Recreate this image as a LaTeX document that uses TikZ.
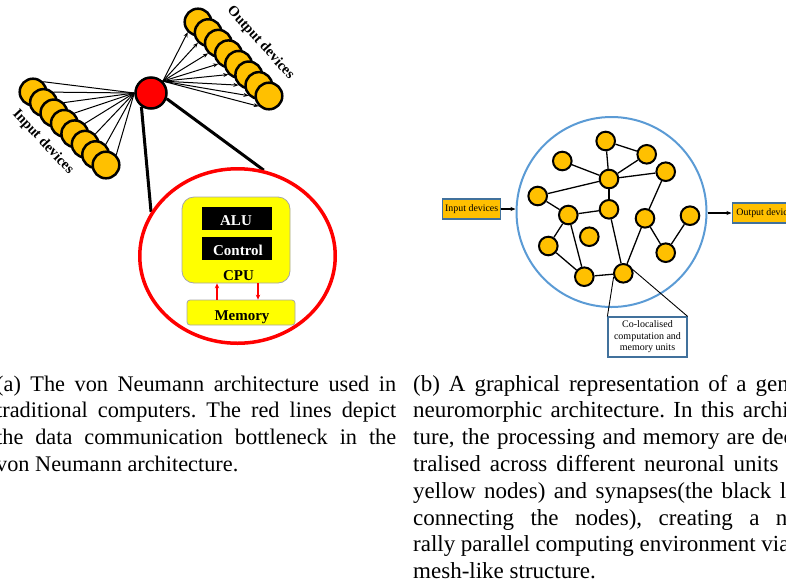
\documentclass[tikz,border=0pt]{standalone}
\usepackage{fontspec}
\setmainfont{Liberation Serif}
\usetikzlibrary{arrows.meta,shapes.geometric,backgrounds}
\definecolor{devyel}{HTML}{FFC000}
\definecolor{cpuyel}{HTML}{FFFF00}
\definecolor{cpugray}{HTML}{A6A6A6}
\definecolor{ringblue}{HTML}{5B9BD5}
\definecolor{boxblue}{HTML}{41719C}
\newlength\capwa
\setlength\capwa{400pt}
\newlength\capwb
\setlength\capwb{410pt}
\newcommand\caplinea[1]{\hbox to \capwa{#1}}
\newcommand\caplineb[1]{\hbox to \capwb{#1}}
\frenchspacing
\begin{document}
\begin{tikzpicture}[x=1pt,y=-1pt,
  dev/.style={circle,draw=black,line width=2.5pt,fill=devyel,minimum size=26.6pt,inner sep=0pt},
  hub/.style={circle,draw=black,line width=2.5pt,fill=red,minimum size=31pt,inner sep=0pt},
  fan/.style={line width=1pt,black},
  fanarrow/.style={line width=1pt,black,-{Stealth[length=5pt,width=4pt]}},
  bus/.style={line width=3pt,black},
  neuron/.style={circle,draw=black,line width=2pt,fill=devyel,minimum size=18.6pt,inner sep=0pt},
  syn/.style={line width=1.3pt,black},
  devlabel/.style={font=\bfseries\fontsize{14.5pt}{16pt}\selectfont,inner sep=0pt},
  cpulabel/.style={font=\bfseries\fontsize{15pt}{17pt}\selectfont,inner sep=0pt,anchor=base},
  blackbox/.style={fill=black,minimum width=70pt,minimum height=23pt,inner sep=0pt},
  iobox/.style={draw=boxblue,line width=1.2pt,fill=devyel,font=\fontsize{9.9pt}{11pt}\selectfont,inner xsep=2.5pt,inner ysep=0pt,minimum height=20pt},
  linkarrow/.style={line width=1.2pt,black,-{Stealth[length=5pt,width=4pt]}},
  redarrow/.style={line width=1.3pt,red,-{Stealth[length=5pt,width=4.5pt]}},
  captiona/.style={inner sep=0pt,anchor=base west,font=\fontsize{22.3pt}{26.8pt}\selectfont},
  captionb/.style={inner sep=0pt,anchor=base west,font=\fontsize{23pt}{26.8pt}\selectfont}
]
\useasboundingbox (0,0) rectangle (786,582);
\clip (0,0) rectangle (786,582);

% ---------- (a) von Neumann ----------
\node[ellipse,draw=red,line width=3.5pt,minimum width=195.5pt,minimum height=174.5pt,inner sep=0pt] (vnbox) at (237.5,256) {};
\node[hub] (hub) at (151,93) {};
\foreach \i in {0,...,7} {
  \node[dev] (in\i) at ({33+10.43*\i},{92+10.43*\i}) {};
}
\foreach \i in {0,...,7} {
  \node[dev] (out\i) at ({198+10.14*\i},{22+10.57*\i}) {};
}
\begin{scope}[on background layer]
  \foreach \i in {0,...,7} {
    \draw[fan] (in\i.north east) -- (hub.west);
    \draw[fanarrow] (hub.north east) -- (out\i.south west);
  }
  \draw[bus] (hub.-125) -- (vnbox.153);
  \draw[bus] (hub.-20) -- (vnbox.73);
\end{scope}
\node[devlabel,rotate=-47] (inlbl) at (43,142) {Input devices};
\node[devlabel,rotate=-48] (outlbl) at (260.5,43) {Output devices};

\node[draw=cpugray,line width=0.8pt,fill=cpuyel,rounded corners=12pt,minimum width=108pt,minimum height=86pt,inner sep=0pt] (cpu) at (236,240) {};
\node[blackbox] (alu) at (237,218.5) {};
\node[cpulabel,text=white] (alutxt) at (236,225.7) {ALU};
\node[blackbox] (ctrl) at (237,248.5) {};
\node[cpulabel,text=white] (ctrltxt) at (238,255) {Control};
\node[cpulabel] (cputxt) at (238.5,280.7) {CPU};
\node[draw=cpugray,line width=0.8pt,fill=cpuyel,rounded corners=3pt,minimum width=108pt,minimum height=25pt,inner sep=0pt] (mem) at (241,312.5) {};
\node[cpulabel] (memtxt) at (242,320) {Memory};
\coordinate (upx) at (217,0);
\coordinate (dnx) at (258,0);
\draw[redarrow] (upx |- mem.north) -- (upx |- cpu.south);
\draw[redarrow] (dnx |- cpu.south) -- (dnx |- mem.north);

% ---------- (b) neuromorphic ----------
\node[circle,draw=ringblue,line width=2pt,minimum size=190pt,inner sep=0pt] (ring) at (611.5,212) {};
\foreach \n/\x/\y in {1/605.7/141, 2/646.7/154.3, 3/562.3/161, 4/665.7/171.7, 5/609/179,
  6/537.7/196, 7/609/209.3, 8/568.3/215, 9/645/218.3, 10/690/215.7, 11/589.3/236.7,
  12/548.3/246, 13/665.7/252.7, 14/584.3/276.7, 15/623.3/273.3} {
  \node[neuron] (n\n) at (\x,\y) {};
}
\foreach \a/\b in {1/2, 1/5, 3/5, 5/2, 5/4, 6/5, 5/7, 6/8, 8/7, 8/12, 8/14, 12/14, 14/15, 7/15, 15/9, 9/4, 9/13, 13/10} {
  \draw[syn] (n\a) -- (n\b);
}
\node[iobox] (inbox) at (471.7,209) {Input devices};
\node[iobox,anchor=west,inner xsep=4.3pt] (outbox) at (731.5,213) {Output devic\phantom{es}};
\draw[linkarrow] (inbox.east) -- (inbox.east -| ring.west);
\draw[linkarrow] (ring.east |- outbox.west) -- (outbox.west);

\node[draw=boxblue,line width=1.2pt,fill=white,minimum width=79pt,minimum height=40pt,inner sep=0pt,align=center,font=\fontsize{10pt}{11.5pt}\selectfont] (cb) at (647.5,337) {Co-localised\\computation and\\memory units};
\draw[line width=0.9pt] (cb.north west) -- (n15.200);
\draw[line width=0.9pt] (cb.north east) -- (n15.20);

% ---------- captions ----------
\node[captiona] (capa) at (-4,391) {\vtop{\baselineskip=26.8pt
  \caplinea{(a) The von Neumann architecture used in}
  \caplinea{traditional computers. The red lines depict}
  \caplinea{the data communication bottleneck in the}
  \hbox{von Neumann architecture.}}};
\node[captionb] (capb) at (413,391) {\vtop{\baselineskip=26.8pt
  \caplineb{(b) A graphical representation of a gen\phantom{eric}}
  \caplineb{neuromorphic architecture. In this archi\phantom{tec-}}
  \caplineb{ture, the processing and memory are dec\phantom{en-}}
  \caplineb{tralised across different neuronal units \phantom{(the}}
  \caplineb{yellow nodes) and synapses(the black l\phantom{ines}}
  \caplineb{connecting the nodes), creating a n\phantom{atu-}}
  \caplineb{rally parallel computing environment via \phantom{the}}
  \hbox{mesh-like structure.}}};
\end{tikzpicture}
\end{document}
